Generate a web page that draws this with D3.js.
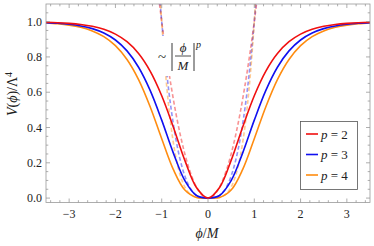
<!DOCTYPE html>
<html><head><meta charset="utf-8">
<script src="https://cdn.jsdelivr.net/npm/d3@7"></script>
<style>body{margin:0;background:#fff}svg{display:block}</style>
</head><body><svg id="c" width="374" height="246" font-family="'Liberation Serif', 'Times New Roman', 'DejaVu Serif', serif"></svg>
<script>
const xs = [-3.5,-3.25,-3,-2.75,-2.5,-2.25,-2,-1.75,-1.5,-1.25,-1,-0.75,-0.5,-0.25,0,0.25,0.5,0.75,1,1.25,1.5,1.75,2,2.25,2.5,2.75,3,3.25,3.5];
const half2 = [0.9964,0.9940,0.9901,0.9838,0.9734,0.9565,0.9293,0.8862,0.8193,0.7196,0.5800,0.4034,0.2136,0.0600];
const half3 = [0.9945,0.9910,0.9852,0.9758,0.9604,0.9355,0.8959,0.8342,0.7416,0.6104,0.4417,0.2562,0.0987,0.0147];
const half4 = [0.9927,0.9880,0.9803,0.9678,0.9475,0.9150,0.8637,0.7853,0.6713,0.5178,0.3364,0.1627,0.0456,0.0036];
const v2 = half2.concat([0], half2.slice().reverse());
const v3 = half3.concat([0], half3.slice().reverse());
const v4 = half4.concat([0], half4.slice().reverse());
const dx = [-1.1,-1.0,-0.9,-0.8,-0.7,-0.6,-0.5,-0.4,-0.3,-0.2,-0.1,0,0.1,0.2,0.3,0.4,0.5,0.6,0.7,0.8,0.9,1.0,1.1];
const d2 = [1.21,1.0,0.81,0.64,0.49,0.36,0.25,0.16,0.09,0.04,0.01,0,0.01,0.04,0.09,0.16,0.25,0.36,0.49,0.64,0.81,1.0,1.21];
const d3v = [1.331,1.0,0.729,0.512,0.343,0.216,0.125,0.064,0.027,0.008,0.001,0,0.001,0.008,0.027,0.064,0.125,0.216,0.343,0.512,0.729,1.0,1.331];
const d4 = [1.4641,1.0,0.6561,0.4096,0.2401,0.1296,0.0625,0.0256,0.0081,0.0016,0.0001,0,0.0001,0.0016,0.0081,0.0256,0.0625,0.1296,0.2401,0.4096,0.6561,1.0,1.4641];
const labels = ["p = 2","p = 3","p = 4"];
const colors = ["#f01010","#1010f0","#ff8c10"];
const xTicks = [-3,-2,-1,0,1,2,3];
const yTicks = [0.0,0.2,0.4,0.6,0.8,1.0];

const svg = d3.select("#c");
const ink="#222";
const L=46,R=370,T=4,B=202.5;
const x = d3.scaleLinear().domain([-3.5,3.5]).range([L,R]);
const y = d3.scaleLinear().domain([-0.025,1.1]).range([B,T]);

svg.append("clipPath").attr("id","cp").append("rect").attr("x",L).attr("y",T).attr("width",R-L).attr("height",B-T);
const g = svg.append("g").attr("clip-path","url(#cp)");

const line = d3.line().x(d=>x(d[0])).y(d=>y(d[1])).curve(d3.curveCatmullRom);
[d2,d3v,d4].forEach((dv,i)=>{
  g.append("path").attr("d",line(dx.map((v,j)=>[v,dv[j]]))).attr("fill","none")
   .attr("stroke",colors[i]).attr("stroke-opacity",0.45).attr("stroke-width",1.6).attr("stroke-dasharray","4,2.5");
});
g.append("rect").attr("x",152).attr("y",36).attr("width",54).attr("height",40).attr("fill","#fff");
[v4,v3,v2].forEach((vv,k)=>{
  const i=2-k;
  g.append("path").attr("d",line(xs.map((v,j)=>[v,vv[j]]))).attr("fill","none")
   .attr("stroke",colors[i]).attr("stroke-width",1.6);
});

const fc="#999";
svg.append("rect").attr("x",L).attr("y",T).attr("width",R-L).attr("height",B-T).attr("fill","none").attr("stroke",fc).attr("stroke-width",0.8);
const xMinor = d3.range(-34,35,2).map(v=>v/10);
const yMinor = d3.range(0,22,1).map(v=>v*0.05);
function tk(x1,y1,x2,y2){svg.append("line").attr("x1",x1).attr("y1",y1).attr("x2",x2).attr("y2",y2).attr("stroke",fc).attr("stroke-width",0.8);}
xMinor.forEach(v=>{const major=xTicks.some(t=>Math.abs(t-v)<1e-6);const len=major?4:2.3;tk(x(v),B,x(v),B-len);tk(x(v),T,x(v),T+len);});
yMinor.forEach(v=>{const major=yTicks.some(t=>Math.abs(t-v)<1e-6);const len=major?4:2.3;tk(L,y(v),L+len,y(v));tk(R,y(v),R-len,y(v));});
xTicks.forEach(t=>svg.append("text").attr("x",x(t)).attr("y",218).attr("text-anchor","middle").attr("font-size",12).attr("fill",ink).text(t<0?"\u2212"+(-t):String(t)));
yTicks.forEach(t=>svg.append("text").attr("x",42).attr("y",y(t)+4).attr("text-anchor","end").attr("font-size",12).attr("fill",ink).text(t.toFixed(1)));

const xl=svg.append("text").attr("x",207).attr("y",238).attr("text-anchor","middle").attr("font-size",14).attr("fill",ink);
xl.append("tspan").attr("font-style","italic").text("\u03d5");
xl.append("tspan").text("/");
xl.append("tspan").attr("font-style","italic").text("M");
const yl=svg.append("text").attr("transform","translate(17,94) rotate(-90)").attr("text-anchor","middle").attr("font-size",14).attr("fill",ink);
yl.append("tspan").attr("font-style","italic").text("V");
yl.append("tspan").text("(");
yl.append("tspan").attr("font-style","italic").text("\u03d5");
yl.append("tspan").text(")/\u039b");
yl.append("tspan").attr("font-size",10).attr("dy",-5).text("4");

svg.append("text").attr("x",158).attr("y",62).attr("font-size",15).attr("fill",ink).text("~");
svg.append("line").attr("x1",172).attr("y1",43).attr("x2",172).attr("y2",71).attr("stroke",ink).attr("stroke-width",0.9);
svg.append("line").attr("x1",194).attr("y1",43).attr("x2",194).attr("y2",71).attr("stroke",ink).attr("stroke-width",0.9);
svg.append("line").attr("x1",175).attr("y1",56).attr("x2",191).attr("y2",56).attr("stroke",ink).attr("stroke-width",0.8);
svg.append("text").attr("x",183).attr("y",52).attr("text-anchor","middle").attr("font-size",13).attr("font-style","italic").attr("fill",ink).text("\u03d5");
svg.append("text").attr("x",183).attr("y",70).attr("text-anchor","middle").attr("font-size",13).attr("font-style","italic").attr("fill",ink).text("M");
svg.append("text").attr("x",196).attr("y",48).attr("font-size",10).attr("font-style","italic").attr("fill",ink).text("p");

svg.append("rect").attr("x",300.5).attr("y",121.5).attr("width",57).attr("height",68).attr("fill","#fff").attr("stroke","#555").attr("stroke-width",0.8);
labels.forEach((lb,i)=>{
  const yy=134+i*20.5;
  svg.append("line").attr("x1",306).attr("x2",318).attr("y1",yy).attr("y2",yy).attr("stroke",colors[i]).attr("stroke-width",1.6);
  const t=svg.append("text").attr("x",321).attr("y",yy+4.5).attr("font-size",13).attr("fill",ink);
  t.append("tspan").attr("font-style","italic").text("p");
  t.append("tspan").text(lb.slice(1));
});
</script></body></html>
